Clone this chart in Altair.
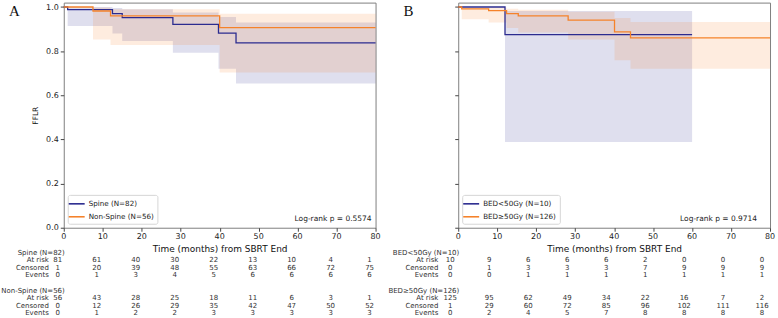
import altair as alt
import pandas as pd

# Follow-up grid used by the x axis and the number-at-risk tables
table_months = [0, 10, 20, 30, 40, 50, 60, 70, 80]
y_ticks = [0.0, 0.2, 0.4, 0.6, 0.8, 1.0]

BLUE = "#2b2b8f"
ORANGE = "#f5822a"

# ---------------- Panel A: Spine vs Non-Spine ----------------
spine_label = "Spine (N=82)"
spine_time = [0, 1.0, 12.5, 15.0, 28.0, 39.7, 44.2, 80]
spine_surv = [1.0, 0.988, 0.970, 0.952, 0.921, 0.882, 0.838, 0.838]
spine_ci_lo = [1.0, 0.914, 0.880, 0.846, 0.793, 0.720, 0.653, 0.653]
spine_ci_hi = [1.0, 1.000, 0.996, 0.990, 0.975, 0.955, 0.930, 0.930]
spine_at_risk = [81, 61, 40, 30, 22, 13, 10, 4, 1]
spine_censored = [1, 20, 39, 48, 55, 63, 66, 72, 75]
spine_events = [0, 1, 3, 4, 5, 6, 6, 6, 6]

nonspine_label = "Non-Spine (N=56)"
nonspine_time = [0, 7.5, 12.0, 40.0, 80]
nonspine_surv = [1.0, 0.982, 0.960, 0.907, 0.907]
nonspine_ci_lo = [1.0, 0.853, 0.828, 0.703, 0.703]
nonspine_ci_hi = [1.0, 0.998, 0.990, 0.970, 0.970]
nonspine_at_risk = [56, 43, 28, 25, 18, 11, 6, 3, 1]
nonspine_censored = [0, 12, 26, 29, 35, 42, 47, 50, 52]
nonspine_events = [0, 1, 2, 2, 3, 3, 3, 3, 3]

pval_a = "Log-rank p = 0.5574"

# ---------------- Panel B: BED < 50 Gy vs BED >= 50 Gy ----------------
low_label = "BED<50Gy (N=10)"
low_time = [0, 12.0, 60.0]
low_surv = [1.0, 0.875, 0.875]
low_ci_lo = [1.0, 0.389, 0.389]
low_ci_hi = [1.0, 0.982, 0.982]
low_at_risk = [10, 9, 6, 6, 6, 2, 0, 0, 0]
low_censored = [0, 1, 3, 3, 3, 7, 9, 9, 9]
low_events = [0, 0, 1, 1, 1, 1, 1, 1, 1]

high_label = "BED≥50Gy (N=126)"
high_time = [0, 0.9, 7.8, 12.4, 15.4, 28.2, 40.1, 44.2, 80]
high_surv = [1.0, 0.992, 0.984, 0.970, 0.960, 0.941, 0.887, 0.860, 0.860]
high_ci_lo = [1.0, 0.945, 0.930, 0.905, 0.885, 0.853, 0.759, 0.720, 0.720]
high_ci_hi = [1.0, 0.998, 0.997, 0.992, 0.988, 0.978, 0.950, 0.932, 0.932]
high_at_risk = [125, 95, 62, 49, 34, 22, 16, 7, 2]
high_censored = [1, 29, 60, 72, 85, 96, 102, 111, 116]
high_events = [0, 2, 4, 5, 7, 8, 8, 8, 8]

pval_b = "Log-rank p = 0.9714"

FONT = "DejaVu Sans"
ROW_NAMES = ["At risk", "Censored", "Events"]

PLOT_W, PLOT_H = 313, 226
Y_TOP = 1.02
TABLE_TOP, TABLE_STEP = 25.0, 7.625   # table rows, in pixels below the x axis


def group(label, color, time, surv, lo, hi, at_risk, censored, events):
    return dict(label=label, color=color, time=time, surv=surv, lo=lo, hi=hi,
                counts=[at_risk, censored, events])


def row_level(k):
    # survival-scale level that lands table line k below the plot
    return -(TABLE_TOP + TABLE_STEP * k) * Y_TOP / PLOT_H


def km_panel(groups, pval, letter, show_y_labels, pval_dx, row_dx, val_dx):
    names = [g["label"] for g in groups]
    colors = [g["color"] for g in groups]

    curves = pd.concat(
        [pd.DataFrame({"group": g["label"], "t": g["time"], "s": g["surv"],
                       "lo": g["lo"], "hi": g["hi"]}) for g in groups],
        ignore_index=True,
    )

    xs = alt.Scale(domain=[0, 80], nice=False, zero=False)
    ys = alt.Scale(domain=[0, Y_TOP], nice=False, zero=False)
    # month labels are drawn as their own text layer; the axis keeps ticks and title
    xaxis = alt.Axis(values=table_months, title="Time (months) from SBRT End",
                     labels=False, titlePadding=13)
    yaxis_kw = dict(values=y_ticks, format=".1f", labelOverlap=False, labelFlush=False)
    if show_y_labels:
        yaxis_kw["title"] = "FFLR"
    else:
        yaxis_kw["labels"] = False
        yaxis_kw["title"] = ""
    yaxis = alt.Axis(**yaxis_kw)

    def x_enc():
        return alt.X("t:Q", scale=xs, axis=xaxis)

    def y_enc(field):
        return alt.Y(f"{field}:Q", scale=ys, axis=yaxis)

    # confidence bands, one constant-colour area per group
    bands = [
        alt.Chart(curves).transform_filter(alt.datum.group == g["label"])
        .mark_area(interpolate="step-after", fill=g["color"], fillOpacity=0.15)
        .encode(x=x_enc(), y=y_enc("lo"), y2="hi:Q")
        for g in groups
    ]

    lines = alt.Chart(curves).mark_line(interpolate="step-after", strokeWidth=1.3).encode(
        x=x_enc(),
        y=y_enc("s"),
        color=alt.Color(
            "group:N",
            scale=alt.Scale(domain=names, range=colors),
            legend=alt.Legend(
                title=None, orient="bottom-left", offset=4, padding=3,
                fillColor="white", strokeColor="#d6d6d6", cornerRadius=2,
                labelFont=FONT, labelFontSize=7.2, labelColor="#222", labelOffset=6,
                symbolType="M-1.6,0H1.6", symbolSize=100, symbolStrokeWidth=1.6,
                rowPadding=3,
            ),
        ),
    )
    pval_text = alt.Chart(pd.DataFrame({"t": [80], "s": [0.0], "txt": [pval]})).mark_text(
        align="right", baseline="bottom", dx=pval_dx, dy=-5,
        font=FONT, fontSize=7.5, color="#222",
    ).encode(x=x_enc(), y=y_enc("s"), text="txt:N")
    letter_text = alt.Chart(pd.DataFrame({"t": [0], "s": [Y_TOP], "txt": [letter]})).mark_text(
        align="left", baseline="middle", dx=-55, dy=8,
        font="Liberation Serif", fontSize=15, color="#111",
    ).encode(x=x_enc(), y=y_enc("s"), text="txt:N")

    # month labels under the x axis ticks
    month_labels = alt.Chart(
        alt.Data(values=[{"t": m, "s": 0.0, "lab": f"{m}"} for m in table_months])
    ).mark_text(
        align="center", baseline="top", dy=5.5, font=FONT, fontSize=8, color="#222",
    ).encode(x=x_enc(), y=y_enc("s"), text="lab:N")

    # number-at-risk table below the axis
    name_rows, label_rows, value_rows = [], [], []
    line = 0
    for gi, g in enumerate(groups):
        if gi > 0:
            line += 1
        name_rows.append({"t": 0, "s": row_level(line), "txt": g["label"]})
        line += 1
        for rname, vals in zip(ROW_NAMES, g["counts"]):
            label_rows.append({"t": 0, "s": row_level(line), "txt": rname})
            for m, v in zip(table_months, vals):
                value_rows.append({"t": m, "s": row_level(line), "txt": str(v)})
            line += 1

    def table_text(rows, align, dx):
        return alt.Chart(pd.DataFrame(rows)).mark_text(
            align=align, baseline="middle", dx=dx, font=FONT, fontSize=7, color="#333",
        ).encode(x=x_enc(), y=y_enc("s"), text="txt:N")

    return alt.layer(
        *bands, lines, pval_text, letter_text, month_labels,
        table_text(name_rows, "right", 1),
        table_text(label_rows, "right", row_dx),
        table_text(value_rows, "center", val_dx),
    ).properties(width=PLOT_W, height=PLOT_H)


panel_a = km_panel(
    [group(spine_label, BLUE, spine_time, spine_surv, spine_ci_lo, spine_ci_hi,
           spine_at_risk, spine_censored, spine_events),
     group(nonspine_label, ORANGE, nonspine_time, nonspine_surv, nonspine_ci_lo, nonspine_ci_hi,
           nonspine_at_risk, nonspine_censored, nonspine_events)],
    pval_a, "A", True, -4, -15, -6,
)
panel_b = km_panel(
    [group(low_label, BLUE, low_time, low_surv, low_ci_lo, low_ci_hi,
           low_at_risk, low_censored, low_events),
     group(high_label, ORANGE, high_time, high_surv, high_ci_lo, high_ci_hi,
           high_at_risk, high_censored, high_events)],
    pval_b, "B", False, -13, -20, -8,
)

chart = (
    alt.hconcat(panel_a, panel_b, spacing=83, bounds="flush")
    .resolve_scale(color="independent")
    .properties(padding={"left": 0, "top": 1, "right": 2, "bottom": 0}, background="white")
    .configure_view(stroke="#808080", strokeWidth=1)
    .configure_axis(
        domain=False, grid=False, tickColor="#444", tickSize=3.5,
        labelFont=FONT, labelFontSize=8, labelColor="#222",
        titleFont=FONT, titleFontWeight="normal", titleColor="#111",
    )
    .configure_axisX(titleFontSize=9)
    .configure_axisY(titleFontSize=7.5, titlePadding=6, labelPadding=2)
)

chart.save("out.html", embed_options={"renderer": "svg", "actions": False})
